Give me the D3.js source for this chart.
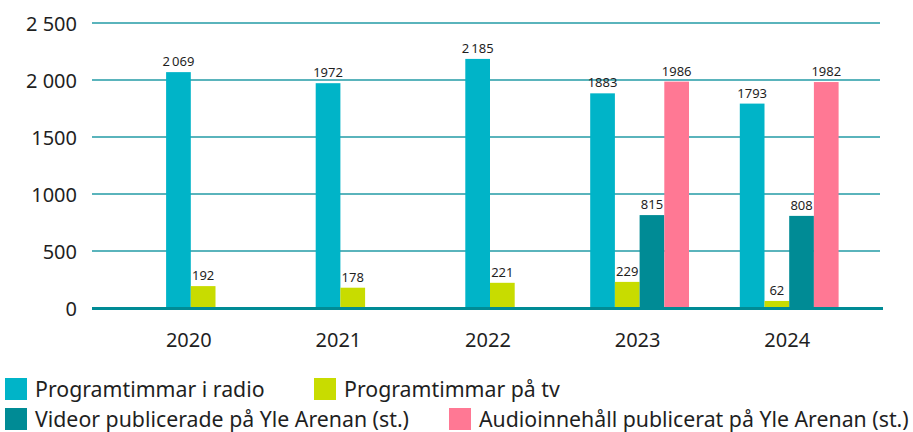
<!DOCTYPE html>
<html>
<head>
<meta charset="utf-8">
<script src="https://cdn.jsdelivr.net/npm/d3@7"></script>
<style>
  body { margin: 0; background: #fff; }
  text { font-family: "Noto Sans", "Open Sans", sans-serif; fill: #1f1f1f; }
</style>
</head>
<body>
<div id="chart"></div>
<script>
// Chart data
const years = ["2020", "2021", "2022", "2023", "2024"];
const radioHours = [2069, 1972, 2185, 1883, 1793];
const tvHours = [192, 178, 221, 229, 62];
const arenaVideos = [null, null, null, 815, 808];
const arenaAudio = [null, null, null, 1986, 1982];
const yTicks = [0, 500, 1000, 1500, 2000, 2500];
const yTickLabels = ["0", "500", "1000", "1500", "2 000", "2 500"];

const seriesNames = [
    "Programtimmar i radio",
    "Programtimmar på tv",
    "Videor publicerade på Yle Arenan (st.)",
    "Audioinnehåll publicerat på Yle Arenan (st.)"
];
const seriesValues = [radioHours, tvHours, arenaVideos, arenaAudio];
const colors = ["#00b4c8", "#c8dc00", "#008b95", "#ff7894"];

const width = 913, height = 432;
const svg = d3.select("#chart").append("svg")
    .attr("width", width)
    .attr("height", height);

// Scales
const y = d3.scaleLinear().domain([0, 2500]).range([308, 23]);
const x = d3.scaleBand().domain(years).range([116, 864]);
const barW = 24.7;

// Gridlines
svg.append("g")
    .selectAll("line")
    .data(yTicks.filter(d => d > 0))
    .join("line")
    .attr("x1", 92).attr("x2", 880)
    .attr("y1", d => y(d)).attr("y2", d => y(d))
    .attr("stroke", "#5ab4bc")
    .attr("stroke-width", 2);

// Y labels
svg.append("g")
    .selectAll("text")
    .data(yTicks)
    .join("text")
    .attr("x", 77)
    .attr("y", d => y(d) + 7.5)
    .attr("text-anchor", "end")
    .attr("font-size", 20)
    .text((d, i) => yTickLabels[i]);

// Bars grouped per year, only the series that have a value
const fmt = v => v >= 2000 ? d3.format(",")(v).replace(",", "\u2009") : String(v);

years.forEach((yr, i) => {
    const items = seriesValues
        .map((s, k) => ({ v: s[i], k: k }))
        .filter(d => d.v != null);
    const cx = x(yr) + x.bandwidth() / 2;
    const x0 = cx - items.length * barW / 2;
    const g = svg.append("g");
    g.selectAll("rect")
        .data(items)
        .join("rect")
        .attr("x", (d, j) => x0 + j * barW)
        .attr("y", d => y(d.v))
        .attr("width", barW)
        .attr("height", d => y(0) - y(d.v))
        .attr("fill", d => colors[d.k]);
    g.selectAll("text")
        .data(items)
        .join("text")
        .attr("x", (d, j) => x0 + j * barW + barW / 2)
        .attr("y", d => y(d.v) - 6)
        .attr("text-anchor", "middle")
        .attr("font-size", 13)
        .text(d => fmt(d.v));
    svg.append("text")
        .attr("x", cx - 2)
        .attr("y", 347)
        .attr("text-anchor", "middle")
        .attr("font-size", 20)
        .text(yr);
});

// Axis baseline
svg.append("line")
    .attr("x1", 92).attr("x2", 883)
    .attr("y1", 308.5).attr("y2", 308.5)
    .attr("stroke", "#008b95")
    .attr("stroke-width", 3);

// Legend
const legendPos = [[5, 378], [314, 378], [5, 408], [449, 408]];
const legend = svg.append("g")
    .selectAll("g")
    .data(seriesNames)
    .join("g")
    .attr("transform", (d, i) => `translate(${legendPos[i][0]},${legendPos[i][1]})`);
legend.append("rect")
    .attr("width", 22).attr("height", 22)
    .attr("fill", (d, i) => colors[i]);
legend.append("text")
    .attr("x", 30)
    .attr("y", 18.5)
    .attr("font-size", 21.3)
    .text(d => d);
</script>
</body>
</html>
